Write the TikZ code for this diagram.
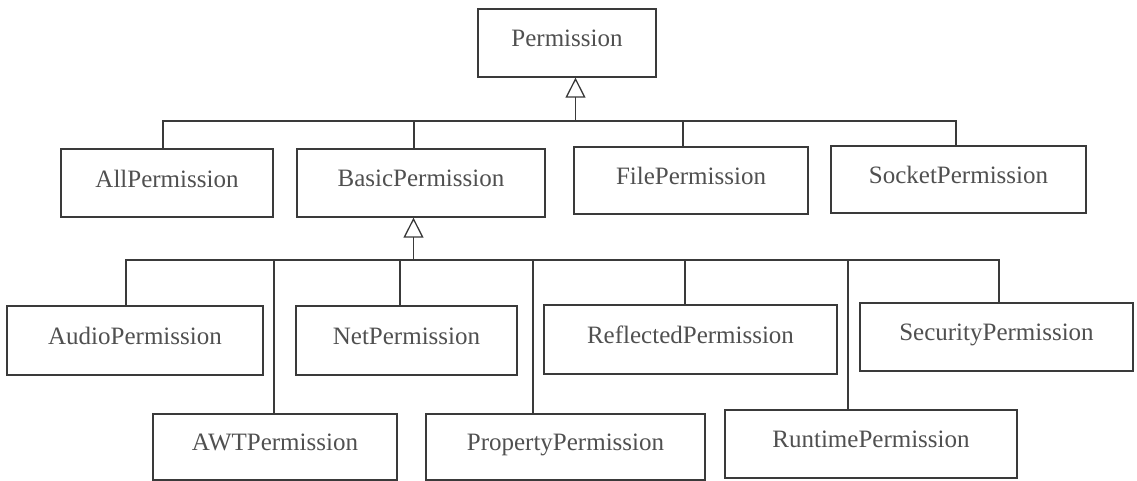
\documentclass[tikz,border=0pt]{standalone}
\usepackage{fontspec}
\setmainfont{Liberation Serif}
\usetikzlibrary{arrows.meta}
\definecolor{ink}{HTML}{3A3A3A}
\definecolor{txt}{HTML}{505050}
\begin{document}
\begin{tikzpicture}[x=1pt,y=-1pt,
  cls/.style={draw=ink,line width=1.3pt,inner sep=0pt,text=txt,
    font=\fontsize{25}{30}\selectfont,text depth=9pt,minimum height=68pt},
  link/.style={draw=ink,line width=1.3pt},
  inherit/.style={link,-{Triangle[open,width=20pt,length=20pt]}}]
\useasboundingbox[fill=white] (0,0) rectangle (1137,480);

% root class
\node[cls,minimum width=178pt] (perm) at (567,43) {Permission};

% first level
\node[cls,minimum width=212pt] (allp)   at (167,183)   {AllPermission};
\node[cls,minimum width=248pt] (basic)  at (421,183)   {BasicPermission};
\node[cls,minimum width=234pt,minimum height=67pt] (file)   at (691,180.5) {FilePermission};
\node[cls,minimum width=255pt,minimum height=67pt] (socket) at (958.5,179.5) {SocketPermission};

% subclasses of BasicPermission
\node[cls,minimum width=256pt,minimum height=69pt] (audio) at (135,340.5) {AudioPermission};
\node[cls,minimum width=221pt,minimum height=69pt] (net)   at (406.5,340.5) {NetPermission};
\node[cls,minimum width=293pt,minimum height=69pt] (refl)  at (690.5,339.5) {ReflectedPermission};
\node[cls,minimum width=273pt] (secu)  at (996.5,337) {SecurityPermission};
\node[cls,minimum width=244pt,minimum height=66pt] (awt)   at (275,447) {AWTPermission};
\node[cls,minimum width=279pt,minimum height=66pt] (prop)  at (565.5,447) {PropertyPermission};
\node[cls,minimum width=292pt] (runt)  at (871,444) {RuntimePermission};

% junctions of the tree bars
\coordinate (j1) at (575.5,121);
\coordinate (j2) at (413.5,260);

% generalisation to Permission
\draw[inherit] (j1) -- ([xshift=8.5pt]perm.south);
\draw[link] ([xshift=-4pt]allp.north)     |- (j1);
\draw[link] ([xshift=-7pt]basic.north)    |- (j1);
\draw[link] ([xshift=-8pt]file.north)     |- (j1);
\draw[link] ([xshift=-2.5pt]socket.north) |- (j1);

% generalisation to BasicPermission
\draw[inherit] (j2) -- ([xshift=-7.5pt]basic.south);
\draw[link] ([xshift=-9pt]audio.north)   |- (j2);
\draw[link] ([xshift=-6.5pt]net.north)   |- (j2);
\draw[link] ([xshift=-5.5pt]refl.north)  |- (j2);
\draw[link] ([xshift=2.5pt]secu.north)   |- (j2);
\draw[link] ([xshift=-1pt]awt.north)     |- (j2);
\draw[link] ([xshift=-32.5pt]prop.north) |- (j2);
\draw[link] ([xshift=-23pt]runt.north)   |- (j2);
\end{tikzpicture}
\end{document}
